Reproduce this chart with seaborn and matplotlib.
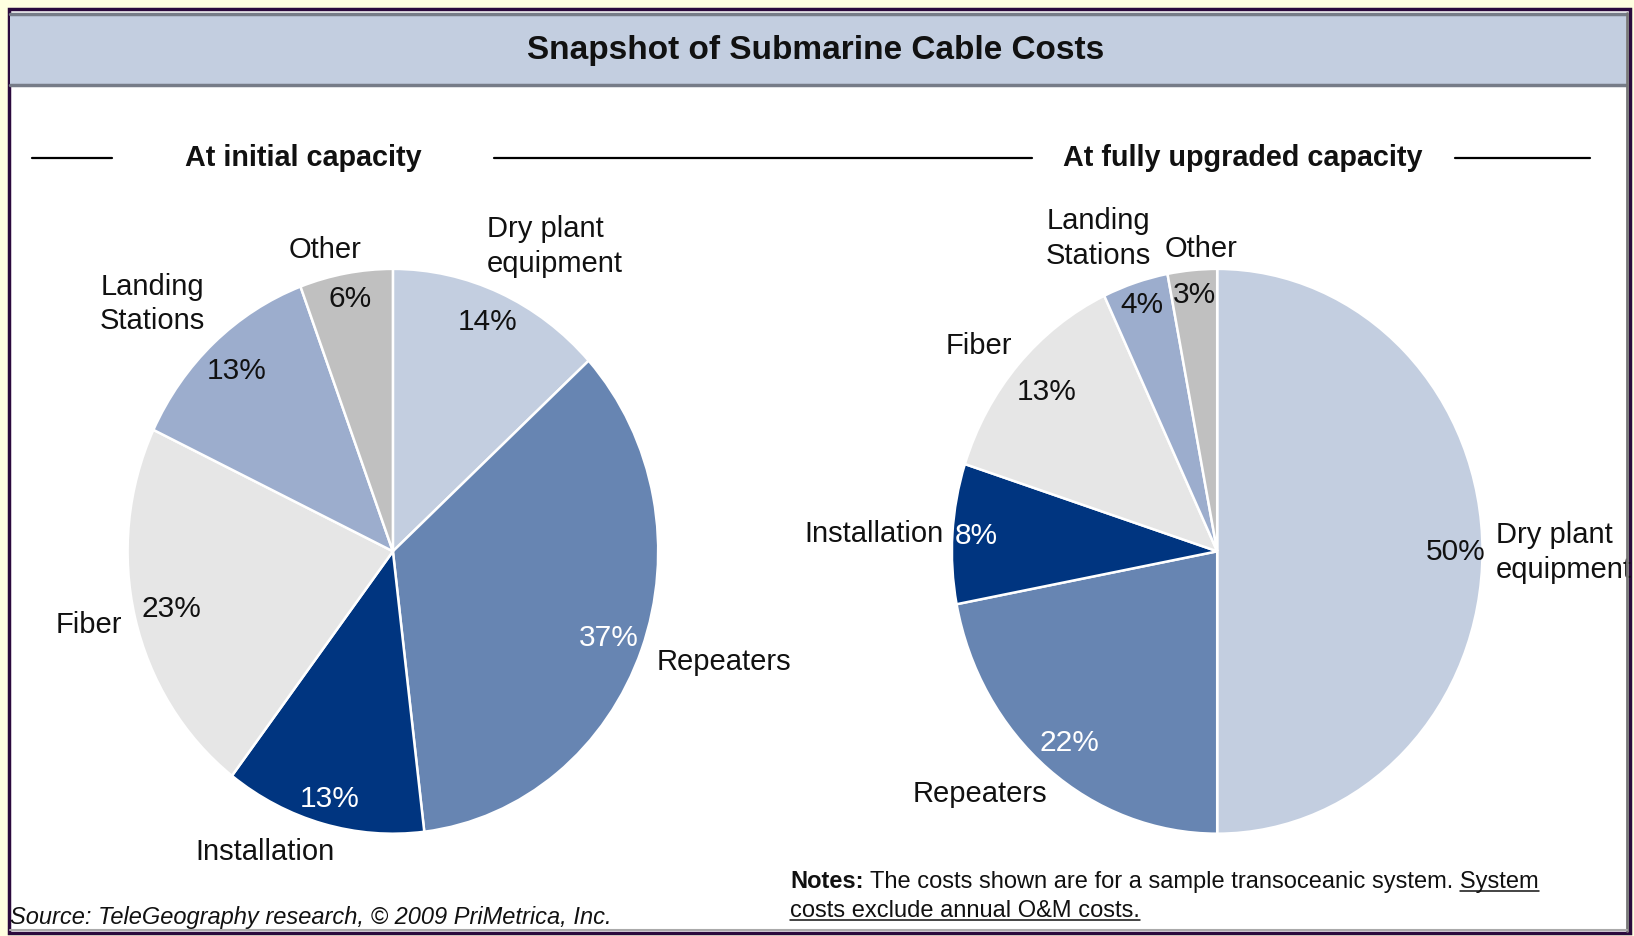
import numpy as np
import seaborn as sns
import matplotlib.pyplot as plt
from matplotlib.patches import Rectangle
from matplotlib.lines import Line2D

# data
categories = ['Dry plant\nequipment', 'Repeaters', 'Installation', 'Fiber', 'Landing\nStations', 'Other']
initial_pct = [14, 37, 13, 23, 13, 6]
upgraded_pct = [50, 22, 8, 13, 4, 3]
slice_colors = ['#C3CEE0', '#6785B2', '#003580', '#E6E6E6', '#9CADCD', '#C0C0C0']
pct_text_colors = ['#111111', 'white', 'white', '#111111', '#111111', '#111111']

sns.set_theme(style='white')
plt.rcParams['font.family'] = ['Liberation Sans', 'DejaVu Sans']

W, H = 1634, 937
RX, RY = 265.3, 282.4   # pies are slightly squashed horizontally in the source
LIM = 1.3
TXT = '#111111'

fig = plt.figure(figsize=(W / 100, H / 100), dpi=100, facecolor='#FFFFE0')


def box(x0, y0, x1, y1, **kw):
    r = Rectangle((x0 / W, 1 - y1 / H), (x1 - x0) / W, (y1 - y0) / H,
                  transform=fig.transFigure, **kw)
    fig.add_artist(r)
    return r


def hline(x0, x1, y, **kw):
    fig.add_artist(Line2D([x0 / W, x1 / W], [1 - y / H, 1 - y / H],
                          transform=fig.transFigure, **kw))


def vline(x, y0, y1, **kw):
    fig.add_artist(Line2D([x / W, x / W], [1 - y0 / H, 1 - y1 / H],
                          transform=fig.transFigure, **kw))


# frame and title bar
box(9, 10, 1630, 934, facecolor='white', edgecolor='#2B0A3D', linewidth=2.5, zorder=0)
box(10, 14, 1626, 87, facecolor='#C3CEE0', edgecolor='none', zorder=1)
hline(10, 1626, 15, color='#767C88', linewidth=2.5, zorder=2)
hline(10, 1626, 85.5, color='#767C88', linewidth=2.5, zorder=2)
vline(1627, 14, 932, color='#777777', linewidth=2, zorder=6)
hline(10, 1627, 931, color='#AAAAAA', linewidth=1.5, zorder=6)

fig.text(816 / W, 1 - 51 / H, 'Snapshot of Submarine Cable Costs', ha='center', va='center',
         fontsize=24, fontweight='bold', color=TXT)

# section headers with rules
fig.text(303 / W, 1 - 158 / H, 'At initial capacity', ha='center', va='center',
         fontsize=20.7, fontweight='bold', color=TXT)
fig.text(1243 / W, 1 - 158 / H, 'At fully upgraded capacity', ha='center', va='center',
         fontsize=20.7, fontweight='bold', color=TXT)
for a, b in [(32, 112), (494, 1032), (1455, 1590)]:
    hline(a, b, 158.5, color='black', linewidth=1.6)


def draw_pie(cx, cy, values, name_style, pct_r):
    w_ax, h_ax = 2 * LIM * RX, 2 * LIM * RY
    ax = fig.add_axes([(cx - w_ax / 2) / W, (H - cy - h_ax / 2) / H, w_ax / W, h_ax / H])
    wedges, _ = ax.pie(values, colors=slice_colors, startangle=90, counterclock=False,
                       wedgeprops=dict(edgecolor='white', linewidth=1.8))
    ax.set_aspect('auto')
    ax.set_xlim(-LIM, LIM)
    ax.set_ylim(-LIM, LIM)
    ax.axis('off')
    ax.patch.set_alpha(0)
    for i, w in enumerate(wedges):
        th = np.deg2rad((w.theta1 + w.theta2) / 2)
        c, s = np.cos(th), np.sin(th)
        ax.text(pct_r[i] * c, pct_r[i] * s, f'{values[i]}%', ha='center', va='center',
                fontsize=21.5, color=pct_text_colors[i])
        r, ha, va, dx, dy = name_style[i]
        ax.annotate(categories[i], xy=(r * c, r * s), xytext=(dx, dy), textcoords='offset pixels',
                    ha=ha, va=va, fontsize=21, color=TXT,
                    multialignment='left' if ha == 'left' else 'center', linespacing=1.3)
    return ax


draw_pie(392.9, 552.3, initial_pct,
         name_style=[(1.04, 'left', 'bottom', -17, 6), (1.1, 'left', 'center', -10, -2),
                     (1.1, 'right', 'center', 19, 0), (1.05, 'right', 'center', 0, -3),
                     (1.22, 'center', 'center', -22, -6), (1.1, 'center', 'center', -16, -3)],
         pct_r=[0.89, 0.87, 0.905, 0.86, 0.87, 0.91])
draw_pie(1217.2, 552.3, upgraded_pct,
         name_style=[(1.05, 'left', 'center', 0, 0), (1.11, 'right', 'center', 18, 0),
                     (1.035, 'right', 'center', 0, 0), (1.12, 'center', 'center', -15, -3),
                     (1.18, 'center', 'center', -22, -3), (1.085, 'left', 'center', -25, -2)],
         pct_r=[0.9, 0.875, 0.91, 0.857, 0.92, 0.915])

# notes with bold lead and underlined part
renderer = fig.canvas.get_renderer()
NS = 17
x0 = 790
t = fig.text(x0 / W, 1 - 888 / H, 'Notes:', fontsize=NS, fontweight='bold', color=TXT, va='baseline')
bb = t.get_window_extent(renderer)
sp = fig.text(0, 0, 'a a', fontsize=NS)
sp2 = fig.text(0, 0, 'aa', fontsize=NS)
space_w = sp.get_window_extent(renderer).width - sp2.get_window_extent(renderer).width
sp.remove()
sp2.remove()
rest = fig.text((bb.x1 + space_w) / W, 1 - 888 / H,
                'The costs shown are for a sample transoceanic system. System',
                fontsize=NS, color=TXT, va='baseline')
rb = rest.get_window_extent(renderer)
tmp = fig.text(0, 0, 'System', fontsize=NS)
sys_w = tmp.get_window_extent(renderer).width
tmp.remove()
hline(rb.x1 - sys_w, rb.x1, 891.5, color=TXT, linewidth=1.1)
l2 = fig.text(x0 / W, 1 - 917 / H, 'costs exclude annual O&M costs.', fontsize=NS,
              color=TXT, va='baseline')
lb = l2.get_window_extent(renderer)
hline(lb.x0, lb.x1, 920.5, color=TXT, linewidth=1.1)

fig.text(10 / W, 1 - 924 / H, 'Source: TeleGeography research, \u00a9 2009 PriMetrica, Inc.',
         fontsize=17, fontstyle='italic', color=TXT, va='baseline')

fig.savefig('out.png', dpi=100, facecolor=fig.get_facecolor())
